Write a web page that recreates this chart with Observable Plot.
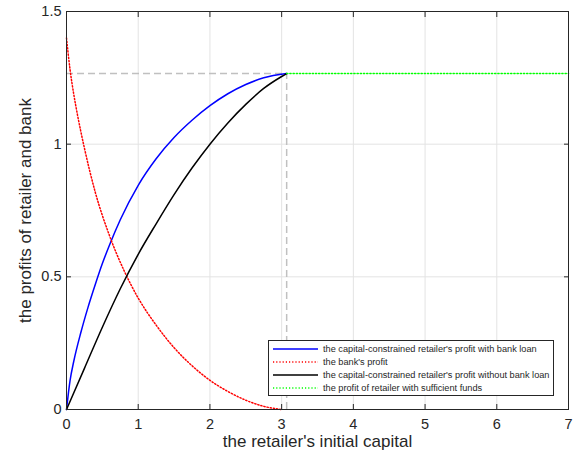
<!DOCTYPE html>
<html>
<head>
<meta charset="utf-8">
<script src="https://cdn.jsdelivr.net/npm/d3@7"></script>
<script src="https://cdn.jsdelivr.net/npm/@observablehq/plot@0.6"></script>
<style>
  body { margin: 0; background: #fff; font-family: "Liberation Sans", Arial, sans-serif; }
  #wrap { position: relative; width: 575px; height: 460px; }
  #legend { position: absolute; left: 268px; top: 340px; width: 286px; height: 56px; border: 1px solid #262626; background: #fff; box-sizing: border-box; padding-top: 2px; }
  .row { display: flex; align-items: center; height: 12.9px; font-size: 9.2px; color: #262626; white-space: nowrap; }
  .row svg { margin-left: 4px; margin-right: 5px; flex: none; }
</style>
</head>
<body>
<div id="wrap"></div>
<script>
// Data
const xTicks = [0, 1, 2, 3, 4, 5, 6, 7];
const yTicks = [0, 0.5, 1, 1.5];

const loanX = [0, 0.05, 0.1, 0.2, 0.3, 0.4, 0.5, 0.6, 0.75, 1.0, 1.25, 1.5, 1.75, 2.0, 2.25, 2.5, 2.75, 3.07];
const loanY = [0, 0.11, 0.18, 0.29, 0.385, 0.47, 0.55, 0.62, 0.715, 0.845, 0.945, 1.025, 1.09, 1.145, 1.19, 1.225, 1.25, 1.266];

const bankX = [0, 0.05, 0.1, 0.15, 0.25, 0.4, 0.6, 0.8, 1.0, 1.25, 1.5, 1.75, 2.0, 2.25, 2.5, 2.75, 3.0];
const bankY = [1.40, 1.28, 1.19, 1.115, 0.985, 0.82, 0.655, 0.525, 0.42, 0.318, 0.233, 0.165, 0.11, 0.068, 0.035, 0.012, 0];

const noLoanX = [0, 0.25, 0.5, 0.75, 1.0, 1.25, 1.5, 1.75, 2.0, 2.25, 2.5, 2.75, 3.0, 3.07];
const noLoanY = [0, 0.155, 0.31, 0.455, 0.585, 0.70, 0.81, 0.91, 1.0, 1.08, 1.15, 1.21, 1.255, 1.266];

const fundsX = [3.07, 7];
const fundsY = [1.266, 1.266];

const peakX = 3.07;
const peakY = 1.266;

const seriesNames = [
  "the capital-constrained retailer's profit with bank loan",
  "the bank's profit",
  "the capital-constrained retailer's profit without bank loan",
  "the profit of retailer with sufficient funds"
];
const seriesColors = ["#0000ff", "#ff0000", "#000000", "#00ff00"];
const seriesDash = [null, "1.2,2", null, "1.2,2"];

const xLabel = "the retailer's initial capital";
const yLabel = "the profits of retailer and bank";

const pts = (xs, ys) => xs.map((x, i) => ({x, y: ys[i]}));
const axisColor = "#262626";

const chart = Plot.plot({
  width: 575,
  height: 460,
  marginLeft: 66,
  marginRight: 7,
  marginTop: 11,
  marginBottom: 51,
  style: {fontFamily: "'Liberation Sans', Arial, sans-serif", color: axisColor, background: "#fff"},
  x: {domain: [0, 7], ticks: xTicks, label: null},
  y: {domain: [0, 1.5], ticks: yTicks, label: null},
  marks: [
    Plot.gridX(xTicks, {stroke: "#e3e3e3", strokeOpacity: 1, strokeWidth: 1}),
    Plot.gridY(yTicks, {stroke: "#e3e3e3", strokeOpacity: 1, strokeWidth: 1}),
    Plot.ruleY([peakY], {x1: 0, x2: peakX, stroke: "#c0c0c0", strokeWidth: 1.5, strokeDasharray: "7,4"}),
    Plot.ruleX([peakX], {y1: 0, y2: peakY, stroke: "#c0c0c0", strokeWidth: 1.5, strokeDasharray: "7,4"}),
    Plot.line(pts(loanX, loanY), {x: "x", y: "y", stroke: seriesColors[0], strokeWidth: 1.5, curve: "monotone-x"}),
    Plot.line(pts(bankX, bankY), {x: "x", y: "y", stroke: seriesColors[1], strokeWidth: 1.5, strokeDasharray: seriesDash[1], curve: "monotone-x"}),
    Plot.line(pts(noLoanX, noLoanY), {x: "x", y: "y", stroke: seriesColors[2], strokeWidth: 1.5, curve: "monotone-x"}),
    Plot.line(pts(fundsX, fundsY), {x: "x", y: "y", stroke: seriesColors[3], strokeWidth: 1.5, strokeDasharray: seriesDash[3]}),
    Plot.frame({stroke: axisColor, strokeWidth: 1}),
    // inward ticks
    Plot.axisX(xTicks, {anchor: "bottom", tickSize: -5, fill: "none", stroke: axisColor, label: null}),
    Plot.axisX(xTicks, {anchor: "top", tickSize: -5, fill: "none", stroke: axisColor, label: null}),
    Plot.axisY(yTicks, {anchor: "left", tickSize: -5, fill: "none", stroke: axisColor, label: null}),
    Plot.axisY(yTicks, {anchor: "right", tickSize: -5, fill: "none", stroke: axisColor, label: null}),
    // tick labels
    Plot.axisX(xTicks, {anchor: "bottom", tickSize: 0, tickPadding: 9, fontSize: 14.5, fill: axisColor, label: null, tickFormat: d => String(d)}),
    Plot.axisY(yTicks, {anchor: "left", tickSize: 0, tickPadding: 5, fontSize: 14.5, fill: axisColor, label: null, tickFormat: d => String(d)}),
    // axis titles
    Plot.text([xLabel], {frameAnchor: "bottom", lineAnchor: "middle", textAnchor: "middle", dy: 32, fontSize: 17, fill: axisColor, text: d => d}),
    Plot.text([yLabel], {frameAnchor: "left", textAnchor: "middle", lineAnchor: "middle", dx: -41, rotate: -90, fontSize: 17, fill: axisColor, text: d => d})
  ]
});

const wrap = document.getElementById("wrap");
wrap.appendChild(chart);

const legend = document.createElement("div");
legend.id = "legend";
seriesNames.forEach((name, i) => {
  const row = document.createElement("div");
  row.className = "row";
  const dash = seriesDash[i] ? `stroke-dasharray="${seriesDash[i]}"` : "";
  row.innerHTML = `<svg width="45" height="6"><line x1="0" y1="3" x2="45" y2="3" stroke="${seriesColors[i]}" stroke-width="1.5" ${dash}/></svg>`;
  const span = document.createElement("span");
  span.textContent = name;
  row.appendChild(span);
  legend.appendChild(row);
});
wrap.appendChild(legend);
</script>
</body>
</html>
